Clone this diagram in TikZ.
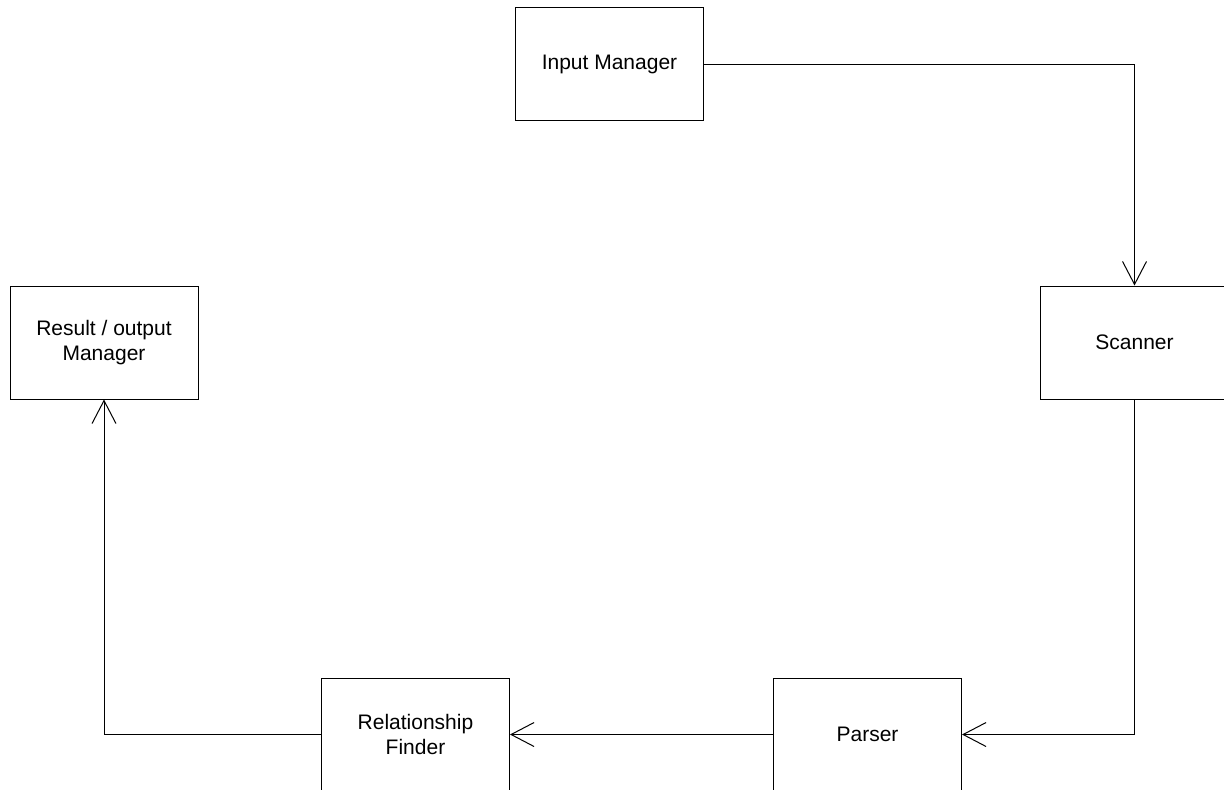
\documentclass[tikz,border=0pt]{standalone}
\usepackage{fontspec}
\setmainfont{Liberation Sans}
\usetikzlibrary{arrows.meta}
\begin{document}
\begin{tikzpicture}[x=0.5pt, y=-0.5pt, line width=0.5pt,
    >={Straight Barb[length=11.5pt, width=12pt]},
    module/.style={draw, minimum width=94pt, minimum height=56.5pt, align=center,
      font=\fontsize{10.5}{12.5}\selectfont}]
  \useasboundingbox (0,0) rectangle (1224,789);
  \clip (0,0) rectangle (1224,789);
  % the five modules
  \node[module] (input) at (609.5,64) {Input Manager};
  \node[module] (scanner) at (1134.5,342.5) {Scanner};
  \node[module] (parser) at (867.5,734.5) {Parser};
  \node[module] (finder) at (415.5,734.5) {Relationship\\Finder};
  \node[module] (result) at (104,342.5) {Result / output\\Manager};
  % flow between them
  \draw[->] (input.east) -| (scanner.north);
  \draw[->] (scanner.south) |- (parser.east);
  \draw[->] (parser.west) -- (finder.east);
  \draw[->] (finder.west) -| (result.south);
\end{tikzpicture}
\end{document}
